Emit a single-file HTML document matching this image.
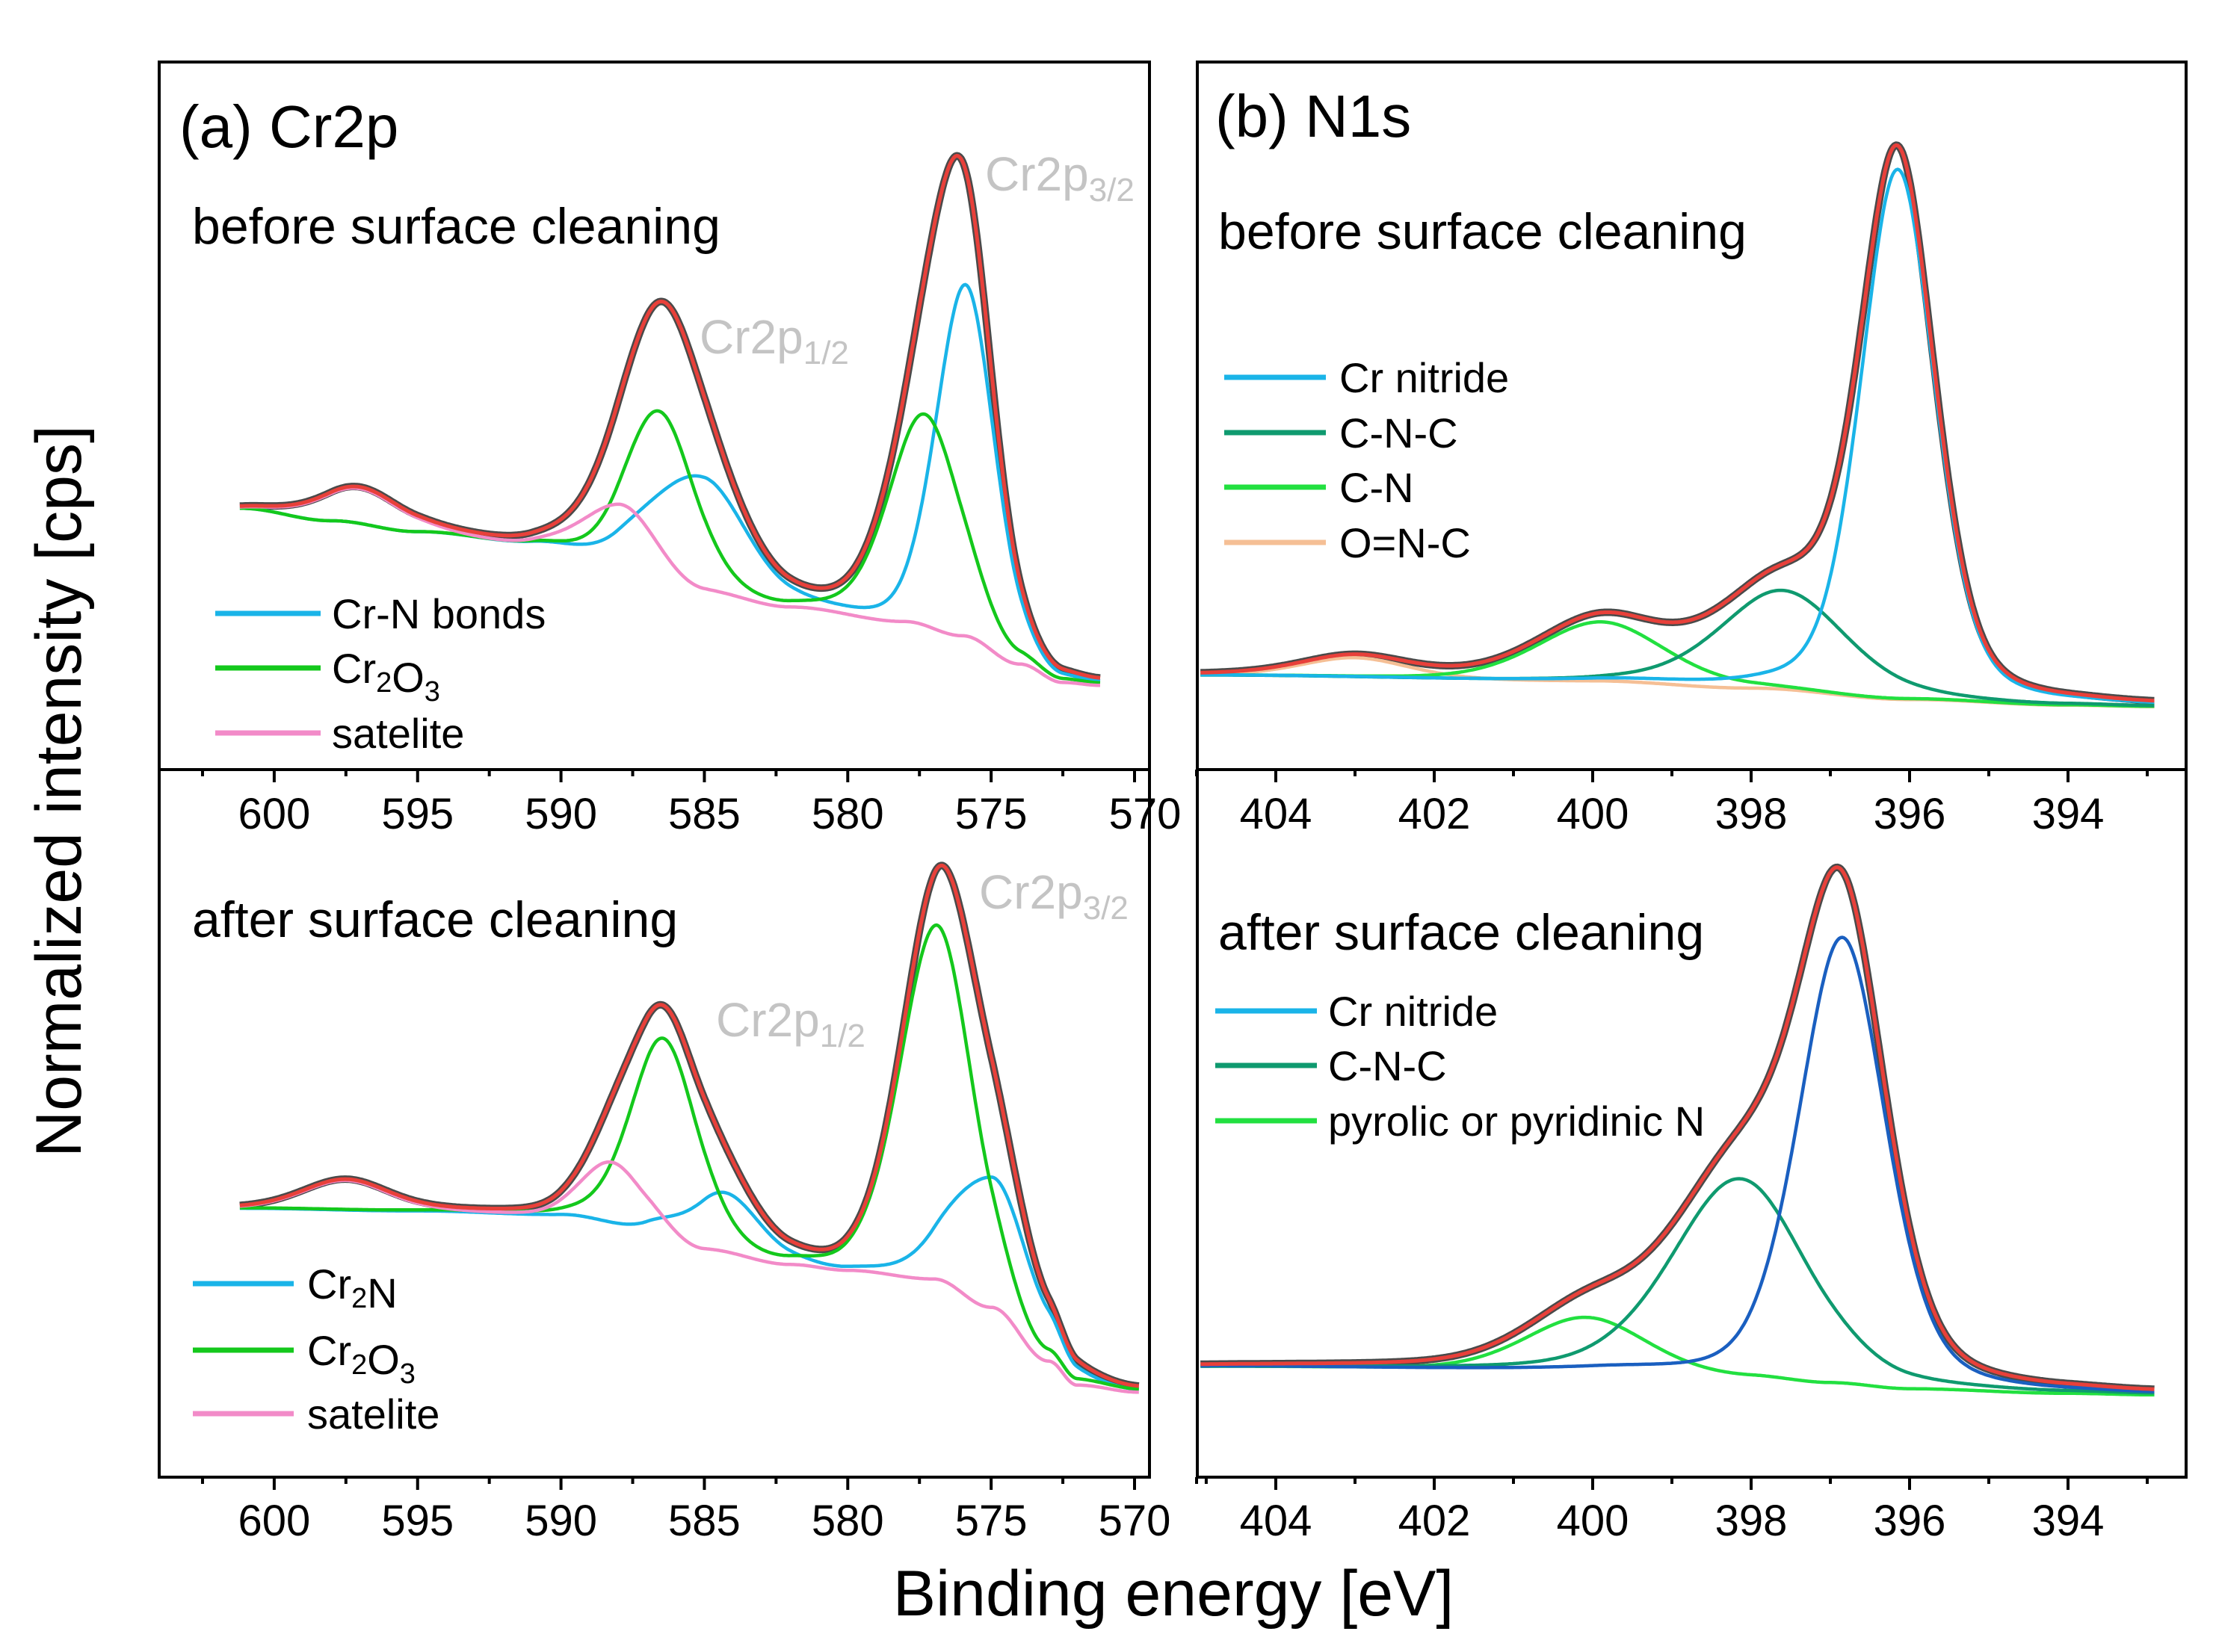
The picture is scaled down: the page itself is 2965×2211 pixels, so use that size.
<!DOCTYPE html>
<html><head><meta charset="utf-8"><style>
html,body{margin:0;padding:0;background:#fff}
svg{display:block}
text{font-family:"Liberation Sans",Arial,sans-serif}
</style></head><body>
<svg id="chart" width="2965" height="2211" viewBox="0 0 2965 2211" xmlns="http://www.w3.org/2000/svg"></svg>
<script>
// ---------- data (intensities in arbitrary units) ----------
const crTicks = [600,595,590,585,580,575,570];
const nTicks = [404,402,400,398,396,394];

const aBeforeBgE = [601.2,598,595,591,588,585,582,578,576,574,572.5,571.2];
const aBeforeBgI = [185,176,168,160,150,125,115,105,95,75,62,60];
const aBeforeCrNCenters=[575.9,585.2], aBeforeCrNAmps=[248,82], aBeforeCrNW=[2.4,3.8];
const aBeforeOxCenters=[577.3,586.5], aBeforeOxAmps=[149,115], aBeforeOxW=[3.0,2.8];
const aBeforeSatCenters=[588,597], aBeforeSatAmps=[38,25], aBeforeSatW=[3.0,3.5];

const aAfterBgE = [601.2,595,590,587,585,582,580,577,575,573,572,569.85];
const aAfterBgI = [190,188,185,175,160,150,146,140,120,82,65,60];
const aAfterCrNCenters=[575,584.3], aAfterCrNAmps=[92,42], aAfterCrNW=[3.4,3.0];
const aAfterOxCenters=[576.9,586.4], aAfterOxAmps=[250,137], aAfterOxW=[3.0,2.8];
const aAfterSatCenters=[597.5,588.2], aAfterSatAmps=[21,44], aAfterSatW=[3.5,2.5];

const bBeforeBgE=[405,400,398,396,394,392.9];
const bBeforeBgI=[67,63,58,50,46,45];
const bBeforeNitC=[396.15], bBeforeNitA=[375], bBeforeNitW=[1.1];
const bBeforeCNCC=[397.6], bBeforeCNCA=[70], bBeforeCNCW=[1.9];
const bBeforeCNC_=[399.9], bBeforeCNA=[42], bBeforeCNW=[1.9];
const bBeforeONCC=[403], bBeforeONCA=[14], bBeforeONCW=[1.6];

const bAfterBgE=[405,400,398,397,396,394,392.9];
const bAfterBgI=[78,75,70,66,62,59,58];
const bAfterNitC=[396.85], bAfterNitA=[316], bAfterNitW=[1.3];
const bAfterCNCC=[398.15], bAfterCNCA=[141], bAfterCNCW=[2.0];
const bAfterPyrC=[400.1], bAfterPyrA=[38], bAfterPyrW=[1.8];

// ---------- helpers ----------
const NS="http://www.w3.org/2000/svg";
const svg=document.getElementById('chart');
function mk(tag,attrs,parent){const e=document.createElementNS(NS,tag);for(const k in attrs)e.setAttribute(k,attrs[k]);(parent||svg).appendChild(e);return e;}
const xLeft=E=>1518-(E-570)*38.37;
const xRight=E=>1707+(404-E)*106;
const yTop=v=>1.892*(501-v)+83;
const yBot=v=>1.892*(1001-v)+83;
function bgAt(E,es,is){
  if(E>=es[0])return is[0];
  for(let i=0;i<es.length-1;i++){
    if(E<=es[i]&&E>=es[i+1]){const t=(es[i]-E)/(es[i]-es[i+1]);const s=(1-Math.cos(Math.PI*t))/2;return is[i]+(is[i+1]-is[i])*s;}
  }
  return is[is.length-1];
}
function pv(E,c,a,w,eta){const d=(E-c)/w;return a*(eta/(1+4*d*d)+(1-eta)*Math.exp(-4*Math.LN2*d*d));}
function sumPeaks(E,cs,as,ws,eta){let s=0;for(let i=0;i<cs.length;i++)s+=pv(E,cs[i],as[i],ws[i],eta);return s;}
function path(fn,e0,e1,step,xf,yf){let d='';for(let E=e0;E>=e1-1e-9;E-=step){d+=(d?'L':'M')+xf(E).toFixed(1)+','+yf(fn(E)).toFixed(1);}return d;}

function panel(cfg){
  const g=mk('g',{});
  
  
  const {e0,e1,step,xf,yf,eta,bgE,bgI,series}=cfg;
  const bg=E=>bgAt(E,bgE,bgI);
  const env=E=>bg(E)+series.reduce((s,p)=>s+sumPeaks(E,p.c,p.a,p.w,eta),0);
  const raw=mk('path',{d:path(env,e0,e1,step,xf,yf),fill:'none',stroke:'#4a4a4a','stroke-width':10,'stroke-linejoin':'round'},g);
  
  
  series.forEach(p=>{
    const el=mk('path',{d:path(E=>bg(E)+sumPeaks(E,p.c,p.a,p.w,eta),e0,e1,step,xf,yf),fill:'none',stroke:p.color,'stroke-width':4.5},g);
    
    
  });
  const fit=mk('path',{d:path(env,e0,e1,step,xf,yf),fill:'none',stroke:'#e8403a','stroke-width':5},g);
  
  
}

const CY='#1ab4e8',GR='#14c81c',PK='#f28bc8',TE='#0f9a6f',LG='#22e040',OR='#f5bf95',BL='#1a5fc0';

panel({name:'cr2p-before-plot',e0:601.2,e1:571.2,step:0.05,xf:xLeft,yf:yTop,eta:0.2,bgE:aBeforeBgE,bgI:aBeforeBgI,series:[
 {name:'cr-n',color:CY,c:aBeforeCrNCenters,a:aBeforeCrNAmps,w:aBeforeCrNW},
 {name:'cr2o3',color:GR,c:aBeforeOxCenters,a:aBeforeOxAmps,w:aBeforeOxW},
 {name:'satellite',color:PK,c:aBeforeSatCenters,a:aBeforeSatAmps,w:aBeforeSatW}]});
panel({name:'cr2p-after-plot',e0:601.2,e1:569.85,step:0.05,xf:xLeft,yf:yBot,eta:0.2,bgE:aAfterBgE,bgI:aAfterBgI,series:[
 {name:'cr2n',color:CY,c:aAfterCrNCenters,a:aAfterCrNAmps,w:aAfterCrNW},
 {name:'cr2o3',color:GR,c:aAfterOxCenters,a:aAfterOxAmps,w:aAfterOxW},
 {name:'satellite',color:PK,c:aAfterSatCenters,a:aAfterSatAmps,w:aAfterSatW}]});
panel({name:'n1s-before-plot',e0:404.95,e1:392.9,step:0.02,xf:xRight,yf:yTop,eta:0.3,bgE:bBeforeBgE,bgI:bBeforeBgI,series:[
 {name:'o-n-c',color:OR,c:bBeforeONCC,a:bBeforeONCA,w:bBeforeONCW},
 {name:'c-n',color:LG,c:bBeforeCNC_,a:bBeforeCNA,w:bBeforeCNW},
 {name:'c-n-c',color:TE,c:bBeforeCNCC,a:bBeforeCNCA,w:bBeforeCNCW},
 {name:'cr-nitride',color:CY,c:bBeforeNitC,a:bBeforeNitA,w:bBeforeNitW}]});
panel({name:'n1s-after-plot',e0:404.95,e1:392.9,step:0.02,xf:xRight,yf:yBot,eta:0.3,bgE:bAfterBgE,bgI:bAfterBgI,series:[
 {name:'pyrrolic',color:LG,c:bAfterPyrC,a:bAfterPyrA,w:bAfterPyrW},
 {name:'c-n-c',color:TE,c:bAfterCNCC,a:bAfterCNCA,w:bAfterCNCW},
 {name:'cr-nitride',color:BL,c:bAfterNitC,a:bAfterNitA,w:bAfterNitW}]});

[[213,83,1325,947,'cr2p-before-frame'],[213,1030,1325,947,'cr2p-after-frame'],[1602,83,1323,947,'n1s-before-frame'],[1602,1030,1323,947,'n1s-after-frame']].forEach(f=>{
  const r=mk('rect',{x:f[0],y:f[1],width:f[2],height:f[3],fill:'none',stroke:'#000','stroke-width':4});
  
  
});

function axis(ticks,minorStep,xf,yAxis,labelY,name){
  const g=mk('g',{});
  
  
  ticks.forEach(t=>{
    mk('line',{x1:xf(t),x2:xf(t),y1:yAxis,y2:yAxis+17,stroke:'#000','stroke-width':4},g);
    const tx=mk('text',{x:xf(t),y:labelY,'font-size':58,'text-anchor':'middle'},g);
    tx.textContent=t;
    
    
  });
  for(let i=0;i<ticks.length;i++){
    const X=xf(ticks[i]-minorStep);
    mk('line',{x1:X,x2:X,y1:yAxis,y2:yAxis+9,stroke:'#000','stroke-width':4},g);
  }
  const X0=xf(ticks[0]+minorStep);
  mk('line',{x1:X0,x2:X0,y1:yAxis,y2:yAxis+9,stroke:'#000','stroke-width':4},g);
}
axis(crTicks.slice(0,-1),2.5,xLeft,1030,1109,'cr2p-before-x-axis');
axis(crTicks,2.5,xLeft,1977,2055,'cr2p-after-x-axis');
axis(nTicks,1,xRight,1030,1109,'n1s-before-x-axis');
axis(nTicks,1,xRight,1977,2055,'n1s-after-x-axis');
const t570=mk('text',{x:xLeft(570)+14,y:1109,'font-size':58,'text-anchor':'middle'});
t570.textContent='570';


mk('line',{x1:xLeft(570),x2:xLeft(570),y1:1030,y2:1047,stroke:'#000','stroke-width':4});

function txt(s,x,y,size,name,color,anchor){const t=mk('text',{x:x,y:y,'font-size':size,fill:color||'#000','text-anchor':anchor||'start'});t.innerHTML=s;return t;}
txt('(a) Cr2p',240,197,80,'panel-a-label');
txt('(b) N1s',1626,183,80,'panel-b-label');
txt('before surface cleaning',257,326,68,'cr2p-before-title');
txt('before surface cleaning',1630,333,68,'n1s-before-title');
txt('after surface cleaning',257,1254,68,'cr2p-after-title');
txt('after surface cleaning',1630,1271,68,'n1s-after-title');
txt('Cr2p<tspan font-size="44" dy="14">3/2</tspan>',1318,255,64,'cr2p32-annotation','#c4c4c4');
txt('Cr2p<tspan font-size="44" dy="14">1/2</tspan>',936,473,64,'cr2p12-annotation','#c4c4c4');
txt('Cr2p<tspan font-size="44" dy="14">3/2</tspan>',1310,1216,64,'cr2p32-annotation-after','#c4c4c4');
txt('Cr2p<tspan font-size="44" dy="14">1/2</tspan>',958,1387,64,'cr2p12-annotation-after','#c4c4c4');
txt('Binding energy [eV]',1570,2162,86,'x-axis-title','#000','middle');
const yt=txt('Normalized intensity [cps]',0,0,86,'y-axis-title','#000','middle');
yt.setAttribute('transform','translate(108,1059) rotate(-90)');

function legend(items,x0,x1,tx,y0s,name){
  const g=mk('g',{});
  
  
  items.forEach((it,i)=>{
    mk('line',{x1:x0,x2:x1,y1:y0s[i],y2:y0s[i],stroke:it[1],'stroke-width':7},g);
    const t=mk('text',{x:tx,y:y0s[i]+20,'font-size':56},g);
    t.innerHTML=it[0];
    
    
  });
}
const sub=s=>'<tspan font-size="38" dy="12">'+s+'</tspan><tspan dy="-12"></tspan>';
legend([['Cr-N bonds',CY],['Cr'+sub('2')+'O'+sub('3'),GR],['satelite',PK]],288,429,444,[821,894,981],'cr2p-before-legend');
legend([['Cr nitride',CY],['C-N-C',TE],['C-N',LG],['O=N-C',OR]],1638,1774,1792,[505,579,652,726],'n1s-before-legend');
legend([['Cr'+sub('2')+'N',CY],['Cr'+sub('2')+'O'+sub('3'),GR],['satelite',PK]],258,393,411,[1718,1807,1892],'cr2p-after-legend');
legend([['Cr nitride',CY],['C-N-C',TE],['pyrolic or pyridinic N',LG]],1626,1762,1777,[1353,1426,1500],'n1s-after-legend');
</script>
</body></html>
